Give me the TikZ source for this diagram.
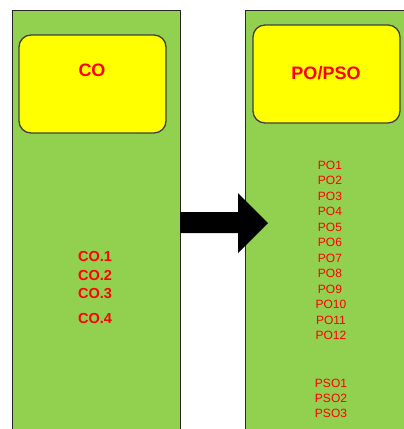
\documentclass[tikz,border=0pt]{standalone}
\usepackage{fontspec}
\setmainfont{Liberation Sans}
\definecolor{panelgreen}{HTML}{92D050}
\definecolor{boxyellow}{HTML}{FFFF00}
\definecolor{txtred}{HTML}{FF0000}
\begin{document}
\begin{tikzpicture}[x=1pt,y=-1pt,
  panel/.style={draw=black!85,line width=0.9pt,fill=panelgreen},
  titlebox/.style={draw=black!75,line width=1.3pt,fill=boxyellow,rounded corners=12pt},
  titletext/.style={text=txtred,font=\bfseries\fontsize{18}{20}\selectfont,inner sep=0pt},
  coitem/.style={text=txtred,font=\bfseries\fontsize{14.5}{16}\selectfont,inner sep=0pt,anchor=west},
  poitem/.style={text=txtred,font=\fontsize{12}{13}\selectfont,inner sep=0pt},
  blockarrow/.style={fill=black}]
\useasboundingbox (0,0) rectangle (404,429);
\begin{scope}
\clip (0,0) rectangle (404,429);
\draw[panel] (12,10) rectangle (180,440);
\draw[panel] (245,10) rectangle (420,440);
\end{scope}
\draw[titlebox] (19,35) rectangle (166,133);
\draw[titlebox] (253,25) rectangle (400,123);
\node[titletext] (co) at (92,70) {CO};
\node[titletext] (popso) at (326,73) {PO/PSO};
\node[coitem] (co1) at (78,257) {CO.1};
\node[coitem] (co2) at (78,275.5) {CO.2};
\node[coitem] (co3) at (78,294) {CO.3};
\node[coitem] (co4) at (78,319) {CO.4};
\node[poitem] (po1) at (330,165) {PO1};
\node[poitem] (po2) at (330,180.5) {PO2};
\node[poitem] (po3) at (330,196) {PO3};
\node[poitem] (po4) at (330,211.5) {PO4};
\node[poitem] (po5) at (330,227) {PO5};
\node[poitem] (po6) at (330,242.5) {PO6};
\node[poitem] (po7) at (330,258) {PO7};
\node[poitem] (po8) at (330,273.5) {PO8};
\node[poitem] (po9) at (330,289) {PO9};
\node[poitem] (po10) at (331,304.5) {PO10};
\node[poitem] (po11) at (331,320) {PO11};
\node[poitem] (po12) at (331,335.5) {PO12};
\node[poitem] (pso1) at (331,383) {PSO1};
\node[poitem] (pso2) at (331,398) {PSO2};
\node[poitem] (pso3) at (331,413) {PSO3};
\fill[blockarrow] (180,212) -- (238,212) -- (238,193) -- (268,223) -- (238,253) -- (238,233) -- (180,233) -- cycle;
\end{tikzpicture}
\end{document}
